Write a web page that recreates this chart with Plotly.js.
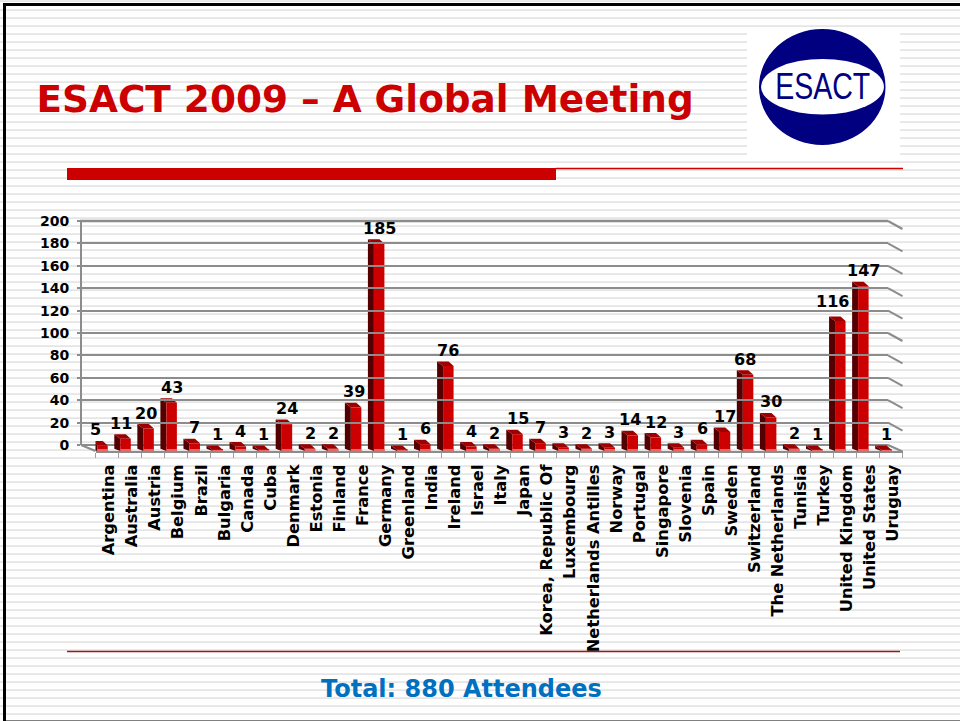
<!DOCTYPE html>
<html>
<head>
<meta charset="utf-8">
<script src="https://cdn.plot.ly/plotly-3.0.1.min.js"></script>
<style>
html,body{margin:0;padding:0;width:960px;height:721px;overflow:hidden;background:#fff}
#bg{position:absolute;left:0;top:0;width:960px;height:721px;
background-image:repeating-linear-gradient(to bottom,#ffffff 0,#ffffff 6px,#ebebeb 6px,#ebebeb 7px,#e5e5e5 7px,#e5e5e5 8px);background-position:0 3px}
#chart{position:absolute;left:0;top:0;width:960px;height:721px}
</style>
</head>
<body>
<div id="bg"></div>
<div id="chart"></div>
<script>
const countries = ["Argentina","Australia","Austria","Belgium","Brazil","Bulgaria","Canada","Cuba","Denmark","Estonia","Finland","France","Germany","Greenland","India","Ireland","Israel","Italy","Japan","Korea, Republic Of","Luxembourg","Netherlands Antilles","Norway","Portugal","Singapore","Slovenia","Spain","Sweden","Switzerland","The Netherlands","Tunisia","Turkey","United Kingdom","United States","Uruguay"];
const attendees = [5,11,20,43,7,1,4,1,24,2,2,39,185,1,6,76,4,2,15,7,3,2,3,14,12,3,6,17,68,30,2,1,116,147,1];
const yTicks = [0,20,40,60,80,100,120,140,160,180,200];

const W = 960, H = 721;
const fx = p => p / W, fy = p => 1 - p / H;
const font = "'DejaVu Sans', Verdana, sans-serif";

// chart geometry (pixels)
const front = {l: 95.5, r: 902.5, b: 451, t: 227};
const back  = {l: 82,   r: 888,   b: 445, t: 221};
const unit = (front.r - front.l) / countries.length;
const pxPerVal = (front.b - front.t) / 200;
const faceOffset = -0.425, faceWidth = 0.455;
const sideDx = 6 / unit, capDx = 5 / unit, depth = 4.5 / pxPerVal;

const shapes = [];
const para = (x0,y0,x1,y1,c)=>({type:'line',xref:'paper',yref:'paper',x0:fx(x0),y0:fy(y0),x1:fx(x1),y1:fy(y1),line:{color:c[0],width:c[1]},layer:'below'});

// frame
shapes.push({type:'rect',xref:'paper',yref:'paper',x0:fx(3),x1:fx(6),y0:fy(4),y1:fy(721),fillcolor:'#000',line:{width:0},layer:'below'});
shapes.push({type:'rect',xref:'paper',yref:'paper',x0:fx(3),x1:fx(960),y0:fy(3),y1:fy(6),fillcolor:'#000',line:{width:0},layer:'below'});
shapes.push(para(6,720.5,960,720.5,['#808080',1]));

// title rules
shapes.push({type:'rect',xref:'paper',yref:'paper',x0:fx(67),x1:fx(556),y0:fy(168),y1:fy(180),fillcolor:'#cc0000',line:{width:0},layer:'below'});
shapes.push(para(556,168.5,903,168.5,['#cc0000',1.4]));
shapes.push(para(67,651.5,900,651.5,['#a51515',1.4]));

// logo
shapes.push({type:'rect',xref:'paper',yref:'paper',x0:fx(747),x1:fx(900),y0:fy(28),y1:fy(155),fillcolor:'#fff',line:{width:0},layer:'below'});
shapes.push({type:'circle',xref:'paper',yref:'paper',x0:fx(759),x1:fx(885.5),y0:fy(29),y1:fy(145),fillcolor:'#000080',line:{width:0},layer:'below'});
shapes.push({type:'circle',xref:'paper',yref:'paper',x0:fx(761),x1:fx(884),y0:fy(59),y1:fy(114.5),fillcolor:'#fff',line:{width:0},layer:'below'});

// floor, wall limits and right-hand tick slants
const grey = '#8c8c8c';
shapes.push(para(back.l-1,back.b,front.l,front.b,[grey,2]));
shapes.push(para(back.l-2,back.t,back.r,back.t,[grey,2.5]));
shapes.push(para(back.l-1,back.b,back.r,back.b,[grey,2]));
yTicks.forEach(v=>{
  const yb = back.b - (back.b-back.t)*v/200;
  shapes.push(para(back.r,yb,front.r,yb+(v===0?6.5:8),[grey,2]));
});

// 3D sides, caps and base reflection of the bars
attendees.forEach((v,i)=>{
  const xf = i + faceOffset, xr = xf + faceWidth;
  const xb = xf - sideDx;
  const minH = Math.max(v, 0.3);
  shapes.push({type:'path',xref:'x',yref:'y',layer:'between',fillcolor:'#550000',line:{width:0},
    path:`M ${xb} ${depth*0.5} L ${xb} ${minH+depth} L ${xf} ${minH} L ${xf} 0 Z`});
  shapes.push({type:'path',xref:'x',yref:'y',layer:'between',fillcolor:'#9c0000',line:{width:0},
    path:`M ${xb} ${minH+depth} L ${xr-capDx} ${minH+depth} L ${xr} ${minH} L ${xf} ${minH} Z`});
  shapes.push({type:'rect',xref:'x',yref:'y',layer:'above',fillcolor:'#e46a6a',line:{width:0},
    x0:xf,x1:xr,y0:0,y1:Math.min(v,1.8)});
});

// value labels: sit over the bar face, a few hand-read nudges where the original shifted them
const nudgeX = {Argentina:-7,Australia:-5,Austria:-3,France:-2,Switzerland:-3,Portugal:-3,"United Kingdom":-8};
const nudgeY = {"United Kingdom":4};
const annotations = attendees.map((v,i)=>({
  xref:'x',yref:'y',x:countries[i],y:v,text:'<b>'+v+'</b>',showarrow:false,
  xanchor:'center',yanchor:'bottom',
  xshift:-4.5+(nudgeX[countries[i]]||0),yshift:5+(nudgeY[countries[i]]||0),
  borderpad:0,font:{family:font,size:16,color:'#000'}
}));
annotations.push(
  {xref:'paper',yref:'paper',x:fx(822.5),y:fy(87),text:'ESACT',showarrow:false,xanchor:'center',yanchor:'middle',
   font:{family:"'Liberation Sans',sans-serif",size:37,color:'#000080'}},
  {xref:'paper',yref:'paper',x:fx(461),y:fy(689),text:'<b>Total: 880 Attendees</b>',showarrow:false,xanchor:'center',yanchor:'middle',
   font:{family:font,size:24,color:'#0070c0'}}
);

const traces = [
  {type:'scatter',mode:'none',x:[0,1],y:[0,200],xaxis:'x2',yaxis:'y2',hoverinfo:'skip',showlegend:false},
  {type:'bar',x:countries,y:attendees,xaxis:'x',yaxis:'y',offset:faceOffset,width:faceWidth,
   marker:{color:'#cc0000',line:{width:0}},showlegend:false,hoverinfo:'x+y'}
];

const layout = {
  width:W,height:H,margin:{l:0,r:0,t:0,b:0,pad:0},autosize:false,
  paper_bgcolor:'rgba(0,0,0,0)',plot_bgcolor:'rgba(0,0,0,0)',
  barmode:'overlay',showlegend:false,
  title:{text:'<b>ESACT 2009 – A Global Meeting</b>',x:fx(36.5),xanchor:'left',xref:'paper',y:fy(112),yanchor:'bottom',yref:'paper',
    pad:{t:0,b:0,l:0,r:0},font:{family:font,size:37.4,color:'#cc0000'}},
  xaxis:{domain:[fx(front.l),fx(front.r)],type:'category',categoryorder:'array',categoryarray:countries,
    range:[-0.5,countries.length-0.5],anchor:'y',fixedrange:true,showgrid:false,zeroline:false,
    showline:true,linecolor:grey,linewidth:2,tickson:'boundaries',ticks:'outside',ticklen:5,tickwidth:1,tickcolor:'#a0a0a0',
    tickangle:-90,tickmode:'linear',dtick:1,automargin:false,ticklabelstandoff:5,ticklabelshift:2,
    tickfont:{family:font,size:16.3,color:'#000',weight:700}},
  yaxis:{domain:[fy(front.b),fy(front.t)],range:[0,200],anchor:'x',visible:false,fixedrange:true},
  xaxis2:{domain:[fx(back.l),fx(back.r)],range:[0,1],anchor:'y2',visible:false,fixedrange:true},
  yaxis2:{domain:[fy(back.b),fy(back.t)],range:[0,200],anchor:'x2',side:'left',fixedrange:true,
    tickmode:'array',tickvals:yTicks,ticktext:yTicks.map(String),
    showgrid:true,gridcolor:grey,gridwidth:2,zeroline:false,showline:true,linecolor:grey,linewidth:2,
    ticks:'outside',ticklen:3,tickwidth:2,tickcolor:grey,automargin:false,ticklabelstandoff:5,
    tickfont:{family:font,size:14,color:'#000',weight:700}},
  shapes:shapes,
  annotations:annotations
};
Plotly.newPlot('chart',traces,layout,{displayModeBar:false}).then(()=>{
  // squeeze the logo wordmark to its narrow proportions
  document.querySelectorAll('.annotation-text').forEach(t=>{
    if(t.textContent==='ESACT'){t.setAttribute('textLength','95');t.setAttribute('lengthAdjust','spacingAndGlyphs');}
  });
});
</script>
</body>
</html>
